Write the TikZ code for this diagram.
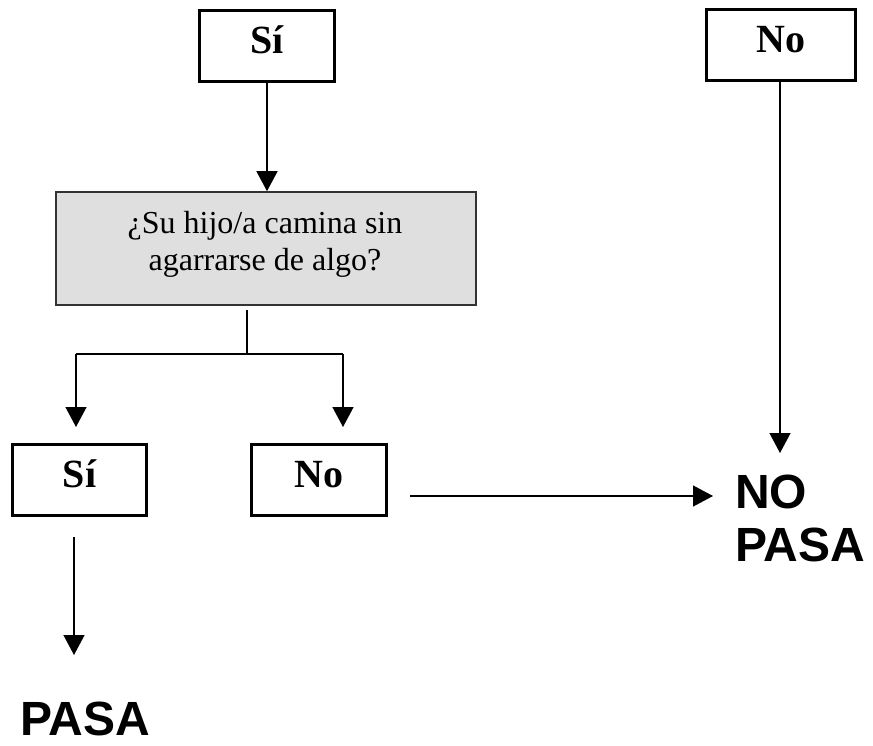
\documentclass[tikz,border=0pt]{standalone}
\usepackage{fontspec}
\setmainfont{Liberation Serif}
\newfontfamily\headfont{Liberation Sans}
\usetikzlibrary{arrows.meta}
\definecolor{qgray}{HTML}{DFDFDF}
\begin{document}
\begin{tikzpicture}[x=1pt,y=-1pt,
  answer/.style={draw, line width=3pt, minimum width=#1, minimum height=71pt,
    inner sep=0pt, font=\fontsize{40}{48}\selectfont\bfseries,
    text height=28pt, text depth=14pt},
  qbox/.style={draw=black!80, fill=qgray, line width=1.6pt, minimum width=420pt,
    minimum height=113pt, inner sep=0pt},
  qtext/.style={align=center, inner sep=0pt, font=\fontsize{32}{37}\selectfont},
  result/.style={inner sep=0pt, align=left, font=\headfont\bfseries\fontsize{48}{53}\selectfont},
  arr/.style={line width=1.3pt, -{Triangle[width=21pt,length=20pt]}},
  link/.style={line width=1.3pt}
]
\useasboundingbox (0,0) rectangle (873,745);

% answer boxes
\node[answer=135pt] (si1) at (267,46) {Sí};
\node[answer=149pt] (no1) at (781,45) {No};
\node[answer=134pt] (si2) at (79.5,480) {Sí};
\node[answer=135pt] (no2) at (319,480) {No};

% question box
\node[qbox] (q) at (266,248.5) {};
\node[qtext, anchor=north] (qt) at (265,211) {¿Su hijo/a camina sin\\agarrarse de algo?};

% outcomes
\node[result, anchor=base west] (pasa) at (20,735) {PASA};
\node[result, anchor=north west] (nopasa) at (735,475) {NO\\PASA};

% free ends of the connectors
\coordinate (qout) at (247,310);
\coordinate (fork) at (247,354);
\coordinate (forkL) at (76,354);
\coordinate (forkR) at (343,354);
\coordinate (tipL) at (76,427);
\coordinate (tipR) at (343,427);
\coordinate (siOut) at (74,537);
\coordinate (pasaIn) at (74,655);
\coordinate (noOut) at (410,496);
\coordinate (npIn) at (713,496);
\coordinate (npTop) at (780,453);

% connectors
\draw[arr] (si1.south) -- (si1.south |- q.north);
\draw[link] (qout) -- (fork);
\draw[link] (forkL) -- (forkR);
\draw[arr] (forkL) -- (tipL);
\draw[arr] (forkR) -- (tipR);
\draw[arr] (siOut) -- (pasaIn);
\draw[arr] (noOut) -- (npIn);
\draw[arr] (no1.south -| npTop) -- (npTop);
\end{tikzpicture}
\end{document}
